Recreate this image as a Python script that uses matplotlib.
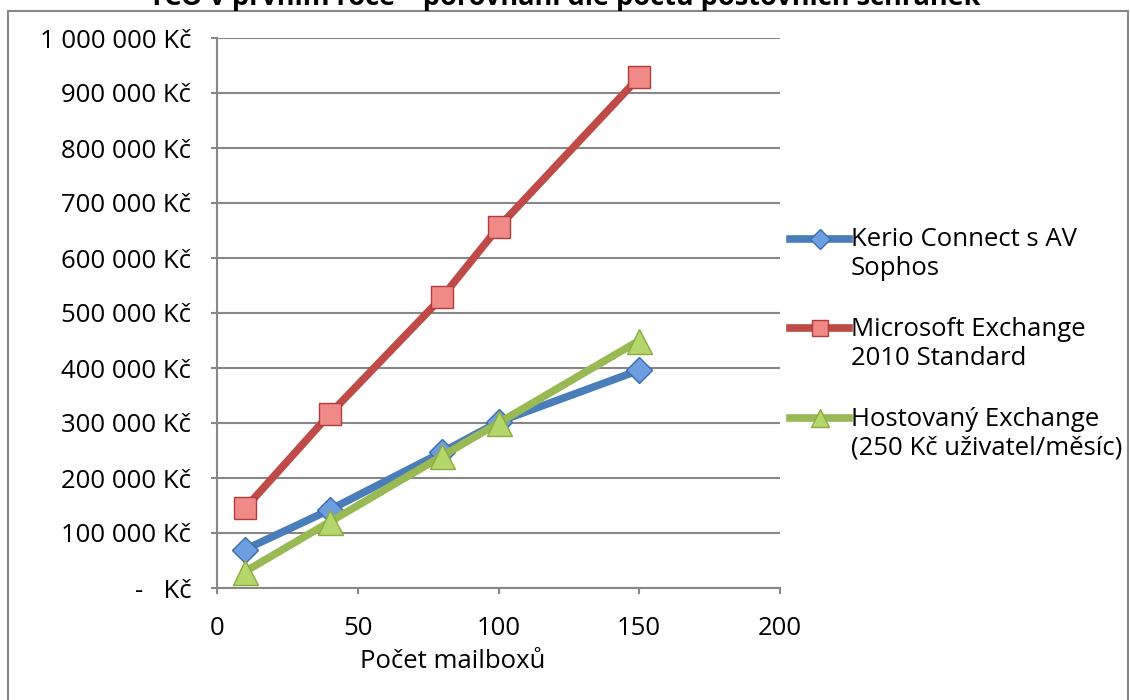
import numpy as np
import matplotlib
matplotlib.use('Agg')
import matplotlib.pyplot as plt
from matplotlib.patches import Rectangle
from matplotlib.ticker import FuncFormatter
from matplotlib.legend_handler import HandlerLine2D

plt.rcParams['font.family'] = ['Open Sans', 'DejaVu Sans']

mailboxes = [10, 40, 80, 100, 150]
kerio = [70000, 142000, 247000, 302000, 396000]
exchange = [145000, 316000, 529000, 656000, 929000]
hosted = [30000, 120000, 240000, 300000, 450000]

labels = ["Kerio Connect s AV\nSophos",
          "Microsoft Exchange\n2010 Standard",
          "Hostovaný Exchange\n(250 Kč uživatel/měsíc)"]
title = "TCO v prvním roce – porovnání dle počtu poštovních schránek"

FS = 18.5

fig = plt.figure(figsize=(11.3, 7), dpi=100)
ax = fig.add_axes([217/1130, 1-588/700, (780-217)/1130, (588-38)/700])

ax.plot(mailboxes, kerio, color='#4A7EBB', lw=5.5, marker='D', ms=13,
        mfc='#6E9EE0', mec='#3A6BAE', mew=1, label=labels[0], zorder=3)
ax.plot(mailboxes, exchange, color='#BE4B48', lw=5.5, marker='s', ms=16,
        mfc='#F08A87', mec='#B43B3B', mew=1, label=labels[1], zorder=3)
ax.plot(mailboxes, hosted, color='#98B954', lw=5.5, marker='^', ms=18,
        mfc='#B4D66A', mec='#8AAA42', mew=1, label=labels[2], zorder=4)

ax.set_xlim(0, 200)
ax.set_ylim(0, 1000000)
ax.set_xticks(np.arange(0, 201, 50))
ax.set_yticks(np.arange(0, 1000001, 100000))

def kc(v, pos):
    if v == 0:
        return "-   Kč"
    return "{:,.0f} Kč".format(v).replace(",", " ")
ax.yaxis.set_major_formatter(FuncFormatter(kc))

ax.grid(axis='y', color='#878787', lw=1.5)
ax.set_axisbelow(True)
for s in ['top', 'right']:
    ax.spines[s].set_visible(False)
for s in ['left', 'bottom']:
    ax.spines[s].set_color('#878787')
    ax.spines[s].set_linewidth(1.5)
ax.tick_params(axis='both', colors='#878787', length=4.5, width=1.5,
               labelcolor='black', labelsize=FS)
ax.tick_params(axis='y', pad=14)
ax.tick_params(axis='x', pad=16)

fig.text(453/1130, 1-662/700, "Počet mailboxů", ha='center', va='center',
         fontsize=FS)


# legend handle sits on the first line of the two-line label
class FirstLineHandler(HandlerLine2D):
    def create_artists(self, legend, orig_handle, xdescent, ydescent,
                       width, height, fontsize, trans):
        arts = super().create_artists(legend, orig_handle, xdescent, ydescent,
                                      width, height, fontsize, trans)
        for a in arts:
            a.set_ydata(np.asarray(a.get_ydata()) + 0.62 * fontsize)
        return arts


leg = ax.legend(loc='center left', bbox_to_anchor=(1.0, 0.444), frameon=False,
                fontsize=FS, handlelength=2.3, handletextpad=0.05,
                labelspacing=1.4, borderaxespad=0, markerscale=0.75,
                handler_map={matplotlib.lines.Line2D: FirstLineHandler()})

fig.text(0.5, 1-5/700, title, ha='center', va='baseline', fontsize=19.5,
         fontweight='bold')

fig.patches.append(Rectangle((8/1130, -0.05), (1128-8)/1130, 1.05-11/700,
                             transform=fig.transFigure, fill=False,
                             edgecolor='#878787', lw=1.5))

plt.savefig('out.png', dpi=100)
